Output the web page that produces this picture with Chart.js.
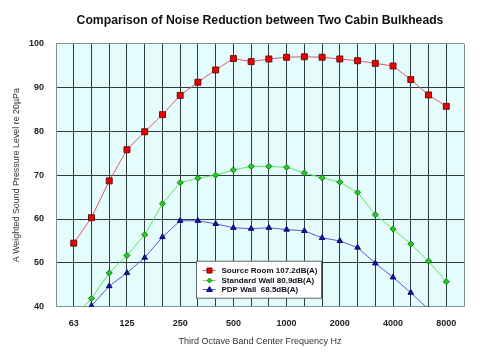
<!DOCTYPE html>
<html>
<head>
<meta charset="utf-8">
<script src="https://cdn.jsdelivr.net/npm/chart.js@4.4.0/dist/chart.umd.min.js"></script>
<style>
  html, body { margin: 0; padding: 0; background: #fff; }
  #wrap { position: relative; width: 480px; height: 354px; }
</style>
</head>
<body>
<div id="wrap"><canvas id="noiseChart"></canvas></div>
<script>
// third octave band centre frequencies (Hz)
const bands = ['63', '80', '100', '125', '160', '200', '250', '315', '400', '500', '630',
               '800', '1000', '1250', '1600', '2000', '2500', '3150', '4000', '5000', '6300', '8000'];
// only the octave bands get a label
const tickLabels = ['63', '125', '250', '500', '1000', '2000', '4000', '8000'];

// dB(A) per band
const sourceRoom = [54.5, 60.3, 68.7, 75.8, 79.9, 83.8, 88.2, 91.2, 94.0, 96.6, 95.9,
                    96.5, 96.9, 97.0, 96.9, 96.5, 96.1, 95.5, 94.9, 91.8, 88.3, 85.7];
const standardWall = [37.5, 41.9, 47.7, 51.7, 56.4, 63.5, 68.3, 69.3, 70.0, 71.2, 72.0,
                      72.0, 71.8, 70.5, 69.4, 68.4, 66.1, 61.0, 57.7, 54.3, 50.4, 45.7];
const pdpWall = [35.0, 40.2, 44.7, 47.7, 51.2, 55.9, 59.6, 59.6, 58.9, 58.0, 57.8,
                 58.0, 57.6, 57.3, 55.7, 55.0, 53.5, 49.9, 46.7, 43.2, 39.4, 35.5];

const seriesNames = ['Source Room 107.2dB(A)', 'Standard Wall 80.9dB(A)', 'PDP Wall  68.5dB(A)'];

const FONT = 'Liberation Sans, Arial, sans-serif';
const EDGE = '#7f9090';
const GRID = '#2c3c3c';

// an empty slot at each end so the first/last band sit one grid step in
const labels = [''].concat(bands, ['']);
const pad = arr => [null].concat(arr, [null]);

// cyan plot background
const plotBackground = {
    id: 'plotBackground',
    beforeDraw(chart) {
        const a = chart.chartArea;
        const ctx = chart.ctx;
        ctx.save();
        ctx.fillStyle = '#e4fcfc';
        ctx.fillRect(a.left, a.top, a.right - a.left, a.bottom - a.top);
        ctx.restore();
    }
};

function drawMarker(ctx, style, x, y, fill, stroke) {
    ctx.beginPath();
    if (style === 'rect') {
        ctx.rect(x - 2.5, y - 2.5, 5, 5);
    } else if (style === 'rectRot') {
        ctx.moveTo(x, y - 2.5); ctx.lineTo(x + 2.5, y); ctx.lineTo(x, y + 2.5); ctx.lineTo(x - 2.5, y);
        ctx.closePath();
    } else {
        ctx.moveTo(x, y - 3); ctx.lineTo(x + 3, y + 2); ctx.lineTo(x - 3, y + 2);
        ctx.closePath();
    }
    ctx.fillStyle = fill;
    ctx.fill();
    ctx.strokeStyle = stroke;
    ctx.lineWidth = 1;
    ctx.stroke();
}

// boxed legend sitting inside the plot
const boxLegend = {
    id: 'boxLegend',
    afterDraw(chart) {
        const a = chart.chartArea;
        const ctx = chart.ctx;
        const left = a.left + 140.5, top = a.bottom - 45.5, w = 125, h = 37;
        ctx.save();
        ctx.fillStyle = '#ffffff';
        ctx.fillRect(left, top, w, h);
        ctx.strokeStyle = '#5a6a6a';
        ctx.lineWidth = 1;
        ctx.strokeRect(left, top, w, h);
        ctx.font = 'bold 8px ' + FONT;
        ctx.textBaseline = 'middle';
        chart.data.datasets.forEach((ds, i) => {
            const y = Math.round(top + 9 + i * 9.6) + 0.5;
            ctx.beginPath();
            ctx.moveTo(left + 6, y);
            ctx.lineTo(left + 19, y);
            ctx.strokeStyle = ds.borderColor;
            ctx.stroke();
            drawMarker(ctx, ds.pointStyle, left + 13, y, ds.pointBackgroundColor, ds.pointBorderColor);
            ctx.fillStyle = '#101020';
            ctx.fillText(ds.label, left + 25, y + 0.5);
        });
        ctx.restore();
    }
};

const data = {
    labels: labels,
    datasets: [{
        label: seriesNames[0],
        data: pad(sourceRoom),
        borderColor: '#e05a6a',
        borderWidth: 1,
        pointStyle: 'rect',
        pointRadius: 4.2,
        pointBackgroundColor: '#ee0000',
        pointBorderColor: '#6a1010',
        pointBorderWidth: 1,
        clip: 0
    }, {
        label: seriesNames[1],
        data: pad(standardWall),
        borderColor: '#5ce65c',
        borderWidth: 1,
        pointStyle: 'rectRot',
        pointRadius: 3,
        pointBackgroundColor: '#22cc22',
        pointBorderColor: '#1a7a1a',
        pointBorderWidth: 1,
        clip: 0
    }, {
        label: seriesNames[2],
        data: pad(pdpWall),
        borderColor: '#5a5ad8',
        borderWidth: 1,
        pointStyle: 'triangle',
        pointRadius: 3.2,
        pointBackgroundColor: '#1414a0',
        pointBorderColor: '#0a0a70',
        pointBorderWidth: 1,
        clip: 0
    }]
};

const config = {
    type: 'line',
    data: data,
    options: {
        responsive: false,
        animation: false,
        layout: { padding: { left: 0, right: 16, top: 0, bottom: 0 } },
        scales: {
            x: {
                offset: false,
                afterFit: scale => { scale.height = 47.3; },
                grid: {
                    drawTicks: false,
                    color: c => (c.index === 0 || c.index === labels.length - 1) ? EDGE : GRID
                },
                border: { color: EDGE },
                ticks: {
                    autoSkip: false,
                    maxRotation: 0,
                    padding: 11,
                    color: '#222',
                    font: { family: FONT, size: 9, weight: 'bold' },
                    callback: function(v) {
                        const l = this.getLabelForValue(v);
                        return tickLabels.includes(l) ? l : '';
                    }
                },
                title: {
                    display: true,
                    text: 'Third Octave Band Center Frequency Hz',
                    color: '#333',
                    font: { family: FONT, size: 9 },
                    padding: { top: 0, bottom: 7 }
                }
            },
            y: {
                min: 40,
                max: 100,
                afterFit: scale => { scale.width = 56; },
                grid: {
                    drawTicks: false,
                    color: c => (c.tick.value === 40 || c.tick.value === 100) ? EDGE : GRID
                },
                border: { color: EDGE },
                ticks: {
                    stepSize: 10,
                    padding: 12,
                    color: '#222',
                    font: { family: FONT, size: 9, weight: 'bold' }
                },
                title: {
                    display: true,
                    text: 'A Weighted Sound Pressure Level re 20µPa',
                    color: '#333',
                    font: { family: FONT, size: 8.9 },
                    padding: { top: 11, bottom: 0 }
                }
            }
        },
        plugins: {
            legend: { display: false },
            tooltip: { enabled: false },
            title: {
                display: true,
                fullSize: false,
                text: 'Comparison of Noise Reduction between Two Cabin Bulkheads',
                color: '#111',
                font: { family: FONT, size: 12.2, weight: 'bold' },
                padding: { top: 13, bottom: 16 }
            }
        }
    },
    plugins: [plotBackground, boxLegend]
};

const canvas = document.getElementById('noiseChart');
canvas.width = 480;
canvas.height = 354;
new Chart(canvas, config);
</script>
</body>
</html>
